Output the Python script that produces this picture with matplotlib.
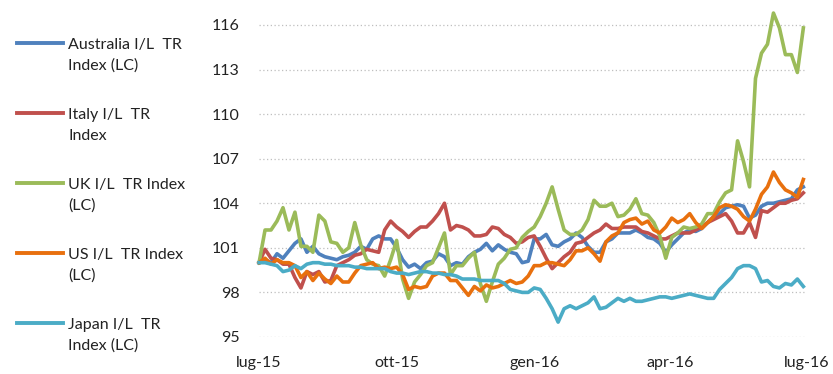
import matplotlib
matplotlib.use('Agg')
import matplotlib.pyplot as plt
from matplotlib.lines import Line2D
import pandas as pd

# index levels sampled every 4 days, base 100 at 1 Jul 2015
dates = pd.date_range('2015-07-01', periods=92, freq='4D')

australia = [100.0, 100.2, 100.0, 100.6, 100.3, 100.8, 101.3, 101.6, 100.7, 101.1,
             100.6, 100.4, 100.3, 100.2, 100.4, 100.5, 100.7, 101.1, 100.9, 101.6,
             101.8, 101.6, 101.6, 101.0, 100.2, 99.7, 99.9, 99.6, 100.0, 100.1,
             100.6, 100.4, 99.8, 100.0, 99.9, 100.4, 100.7, 100.9, 101.3, 100.8,
             101.2, 100.9, 100.7, 100.6, 100.0, 100.1, 101.6, 101.6, 101.9, 101.2,
             101.1, 101.4, 101.6, 102.0, 101.7, 101.1, 100.7, 100.7, 101.4, 101.6,
             102.0, 102.0, 102.0, 102.2, 102.0, 101.7, 101.6, 101.3, 100.7, 101.2,
             101.6, 102.0, 102.2, 102.1, 102.3, 102.7, 103.1, 103.3, 103.7, 103.8,
             103.9, 103.8, 103.0, 103.2, 103.8, 104.0, 104.0, 104.1, 104.2, 104.3,
             104.9, 105.1]

italy = [100.0, 100.9, 100.3, 100.2, 99.9, 99.9, 99.0, 98.3, 99.4, 99.2,
         99.4, 98.7, 98.8, 99.8, 100.0, 100.2, 100.5, 100.6, 100.9, 100.8,
         100.7, 102.2, 102.8, 102.4, 102.1, 101.7, 102.1, 102.4, 102.4, 102.8,
         103.3, 104.0, 102.2, 102.5, 102.4, 102.2, 101.8, 101.8, 101.9, 102.4,
         102.3, 101.9, 101.7, 101.3, 101.4, 101.7, 101.8, 101.1, 100.3, 99.6,
         100.0, 100.4, 100.7, 101.3, 101.4, 101.7, 102.0, 102.2, 102.6, 102.3,
         102.3, 102.4, 102.4, 102.4, 102.1, 102.0, 101.8, 101.6, 101.6, 101.8,
         102.0, 102.0, 102.0, 102.2, 102.4, 102.7, 102.9, 103.1, 103.3, 102.8,
         102.0, 102.0, 102.7, 101.7, 103.5, 103.4, 103.7, 104.0, 104.0, 104.2,
         104.3, 104.7]

uk = [100.0, 102.2, 102.2, 102.8, 103.7, 102.2, 103.4, 101.1, 101.1, 100.7,
      103.2, 102.8, 101.4, 101.3, 100.7, 101.0, 102.7, 101.2, 100.2, 99.9,
      99.8, 99.1, 100.2, 101.5, 98.9, 97.6, 98.7, 99.2, 99.8, 100.0,
      101.0, 102.0, 99.2, 99.8, 99.8, 100.3, 100.7, 98.6, 97.4, 98.7,
      99.9, 100.3, 100.9, 101.0, 101.7, 102.1, 102.4, 103.1, 104.0, 105.1,
      103.6, 102.2, 101.9, 101.9, 102.2, 102.9, 104.2, 103.8, 103.8, 104.0,
      103.1, 103.2, 103.6, 104.3, 103.3, 103.2, 102.7, 101.8, 100.3, 101.7,
      102.0, 102.4, 102.3, 102.4, 102.6, 103.3, 103.3, 104.1, 104.7, 104.9,
      108.2, 106.8, 105.1, 112.4, 114.1, 114.7, 116.8, 115.8, 114.0, 114.0,
      112.8, 115.8]

us = [100.0, 100.3, 99.9, 100.2, 100.0, 100.0, 99.8, 99.0, 99.4, 98.8,
      99.3, 98.9, 98.6, 99.1, 98.7, 98.7, 99.3, 99.8, 99.9, 100.0,
      99.6, 99.7, 99.6, 99.7, 99.2, 98.2, 98.4, 98.3, 98.4, 99.1,
      99.3, 99.3, 98.8, 98.8, 98.3, 97.8, 98.4, 98.1, 98.5, 98.3,
      98.4, 98.6, 98.8, 98.6, 98.7, 99.1, 99.8, 99.8, 100.0, 100.0,
      99.9, 99.8, 100.2, 100.8, 100.8, 101.0, 100.6, 100.1, 101.4, 101.8,
      102.0, 102.7, 102.9, 103.0, 102.6, 102.8, 102.2, 102.0, 102.4, 103.0,
      102.7, 102.9, 103.3, 102.7, 102.3, 102.7, 103.1, 103.7, 103.9, 103.8,
      103.6, 103.1, 102.8, 103.6, 104.6, 105.1, 106.1, 105.4, 104.9, 104.7,
      104.4, 105.6]

japan = [100.0, 100.0, 99.9, 99.8, 99.4, 99.5, 99.8, 99.6, 99.9, 100.0,
         100.0, 99.9, 99.9, 99.8, 99.8, 99.8, 99.7, 99.7, 99.6, 99.6,
         99.6, 99.6, 99.4, 99.3, 99.3, 99.2, 99.3, 99.4, 99.4, 99.3,
         99.3, 99.2, 99.2, 99.1, 98.9, 98.9, 98.9, 98.8, 98.8, 98.8,
         98.8, 98.6, 98.2, 98.1, 98.0, 98.0, 98.3, 98.2, 97.6, 96.9,
         96.0, 96.9, 97.1, 96.9, 97.1, 97.3, 97.7, 96.9, 97.0, 97.3,
         97.6, 97.4, 97.6, 97.4, 97.4, 97.5, 97.6, 97.7, 97.7, 97.6,
         97.7, 97.8, 97.9, 97.8, 97.7, 97.6, 97.6, 98.2, 98.6, 99.0,
         99.6, 99.8, 99.8, 99.6, 98.7, 98.8, 98.4, 98.3, 98.6, 98.5,
         98.9, 98.4]

labels = ['Australia I/L  TR\nIndex (LC)', 'Italy I/L  TR\nIndex',
          'UK I/L  TR Index\n(LC)', 'US I/L  TR Index\n(LC)',
          'Japan I/L  TR\nIndex (LC)']
colors = ['#4F81BD', '#C0504D', '#9BBB59', '#E8700E', '#4BACC6']

tick_dates = pd.to_datetime(['2015-07-01', '2015-10-01', '2016-01-01',
                             '2016-04-01', '2016-07-01'])
tick_labels = ['lug-15', 'ott-15', 'gen-16', 'apr-16', 'lug-16']
yticks = [95, 98, 101, 104, 107, 110, 113, 116]

plt.rcParams['font.family'] = ['Lato', 'DejaVu Sans']

fig = plt.figure(figsize=(8.33, 3.74), dpi=100)
ax = fig.add_axes([0.311, 0.099, 0.657, 0.882])

for vals, col in zip([australia, italy, uk, us, japan], colors):
    ax.plot(dates, vals, color=col, lw=2.6, solid_joinstyle='round', clip_on=False)

ax.set_xlim(tick_dates[0], tick_dates[-1])
ax.set_ylim(95, 117.2)
ax.set_yticks(yticks)
ax.set_yticklabels([str(v) for v in yticks], fontsize=11.5, color='#222222')
ax.set_xticks(tick_dates)
ax.set_xticklabels(tick_labels, fontsize=11.5, color='#222222')
ax.tick_params(axis='both', length=0)
ax.tick_params(axis='y', pad=14)
ax.tick_params(axis='x', pad=14)
ax.yaxis.grid(True, color='#BFBFBF', linestyle=(0, (1, 2)), lw=0.9)
ax.set_axisbelow(True)
for s in ax.spines.values():
    s.set_visible(False)

# series key on the left side
for k, (lab, col) in enumerate(zip(labels, colors)):
    yk = 1 - (43 + 70 * k) / 374
    fig.add_artist(Line2D([17 / 833, 63 / 833], [yk, yk], color=col, lw=2.8,
                          transform=fig.transFigure))
    fig.text(68 / 833, yk + 5 / 374, lab, fontsize=11.5, va='top', ha='left',
             color='#222222', linespacing=1.6)

fig.savefig('out.png', dpi=100)
